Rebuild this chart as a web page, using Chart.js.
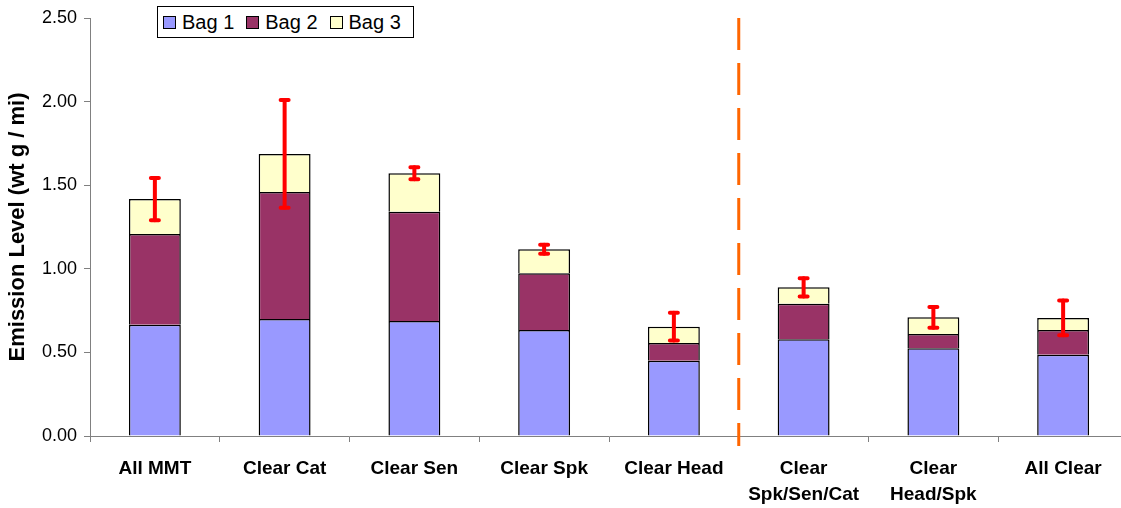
<!DOCTYPE html>
<html lang="en">
<head>
    <meta charset="UTF-8">
    <title>Emission Level by Bag</title>
    <script src="https://cdn.jsdelivr.net/npm/chart.js@4.4.1/dist/chart.umd.min.js"></script>
    <style>
        body {
            margin: 0;
            padding: 0;
            background-color: #ffffff;
            font-family: 'Liberation Sans', Arial, sans-serif;
        }
        .wrap {
            position: relative;
            width: 1121px;
            height: 508px;
            overflow: hidden;
        }
        .legend {
            position: absolute;
            left: 157px;
            top: 6px;
            width: 255px;
            height: 30px;
            border: 1px solid #000;
            background: #fff;
            display: flex;
            align-items: center;
            white-space: nowrap;
            font-size: 20px;
            line-height: 20px;
            color: #000;
        }
        .legend span.item {
            display: flex;
            align-items: center;
            margin-left: 5px;
            margin-right: 7px;
        }
        .legend span.box {
            display: inline-block;
            width: 11px;
            height: 11px;
            border: 1px solid #000;
            margin-right: 6px;
        }
    </style>
</head>
<body>
    <div class="wrap">
        <!-- plot runs a few px past the right edge, like the original -->
        <canvas id="emissionChart" width="1128" height="508"></canvas>
        <div class="legend" id="legend"></div>
    </div>

    <script>
        // data
        var categories = ['All MMT', 'Clear Cat', 'Clear Sen', 'Clear Spk', 'Clear Head',
            ['Clear', 'Spk/Sen/Cat'], ['Clear', 'Head/Spk'], 'All Clear'];
        var bag1 = [0.665, 0.700, 0.688, 0.634, 0.450, 0.578, 0.525, 0.486];
        var bag2 = [0.543, 0.759, 0.653, 0.339, 0.106, 0.213, 0.085, 0.148];
        var bag3 = [0.209, 0.228, 0.230, 0.144, 0.098, 0.098, 0.100, 0.072];
        var errorMargin = [0.126, 0.322, 0.036, 0.027, 0.083, 0.055, 0.062, 0.104];
        var dividerAfter = 4; // dashed line between Clear Head and the combos

        var seriesLabels = ['Bag 1', 'Bag 2', 'Bag 3'];
        var seriesColors = ['#9999FF', '#993366', '#FFFFCC'];

        // red error bars on top of each stack
        var errorBars = {
            id: 'errorBars',
            afterDatasetsDraw: function(chart) {
                var ctx = chart.ctx;
                var x = chart.scales.x, y = chart.scales.y;
                ctx.save();
                ctx.strokeStyle = '#FF0000';
                ctx.lineCap = 'round';
                for (var i = 0; i < categories.length; i++) {
                    var total = bag1[i] + bag2[i] + bag3[i];
                    var px = x.getPixelForValue(i);
                    var top = y.getPixelForValue(total + errorMargin[i]);
                    var bot = y.getPixelForValue(total - errorMargin[i]);
                    ctx.lineWidth = 4;
                    ctx.beginPath();
                    ctx.moveTo(px, top);
                    ctx.lineTo(px, bot);
                    ctx.stroke();
                    ctx.beginPath();
                    ctx.moveTo(px - 4, top);
                    ctx.lineTo(px + 4, top);
                    ctx.moveTo(px - 4, bot);
                    ctx.lineTo(px + 4, bot);
                    ctx.stroke();
                }
                ctx.restore();
            }
        };

        var divider = {
            id: 'divider',
            afterDatasetsDraw: function(chart) {
                var ctx = chart.ctx;
                var x = chart.scales.x;
                var px = (x.getPixelForValue(dividerAfter) + x.getPixelForValue(dividerAfter + 1)) / 2;
                ctx.save();
                ctx.strokeStyle = '#FF6600';
                ctx.lineWidth = 3;
                ctx.setLineDash([32, 13]);
                ctx.beginPath();
                ctx.moveTo(px, chart.chartArea.top);
                ctx.lineTo(px, chart.chartArea.bottom + 10);
                ctx.stroke();
                ctx.restore();
            }
        };

        var sets = [bag1, bag2, bag3].map(function(vals, k) {
            return {
                label: seriesLabels[k],
                data: vals,
                backgroundColor: seriesColors[k],
                borderColor: '#000000',
                borderWidth: 1.5,
                barPercentage: 0.4,
                categoryPercentage: 1.0
            };
        });

        var ctx = document.getElementById('emissionChart').getContext('2d');
        var chart = new Chart(ctx, {
            type: 'bar',
            data: { labels: categories, datasets: sets },
            options: {
                responsive: false,
                animation: false,
                layout: { padding: { top: 18, right: 0, left: 0, bottom: 0 } },
                plugins: {
                    legend: { display: false },
                    tooltip: { enabled: false }
                },
                scales: {
                    x: {
                        stacked: true,
                        offset: true,
                        border: { color: '#808080', width: 1 },
                        grid: { offset: true, drawOnChartArea: false, tickLength: 6, color: '#808080' },
                        ticks: {
                            color: '#000',
                            maxRotation: 0,
                            autoSkip: false,
                            padding: 14,
                            font: { family: 'Liberation Sans', size: 19, weight: 'bold', lineHeight: 1.35 }
                        },
                        afterFit: function(s) { s.height = 72; }
                    },
                    y: {
                        stacked: true,
                        min: 0,
                        max: 2.5,
                        border: { color: '#808080', width: 1 },
                        grid: { drawOnChartArea: false, tickLength: 6, color: '#808080' },
                        ticks: {
                            stepSize: 0.5,
                            color: '#000',
                            padding: 7,
                            font: { family: 'Liberation Sans', size: 18 },
                            callback: function(v) { return v.toFixed(2); }
                        },
                        title: {
                            display: true,
                            text: 'Emission Level (wt g / mi)',
                            color: '#000',
                            padding: { top: 5, bottom: 0 },
                            font: { family: 'Liberation Sans', size: 22, weight: 'bold' }
                        },
                        afterFit: function(s) { s.width = 90; }
                    }
                }
            },
            plugins: [errorBars, divider]
        });

        // legend with a border box, like the original
        var lg = document.getElementById('legend');
        seriesLabels.forEach(function(name, k) {
            var item = document.createElement('span');
            item.className = 'item';
            var box = document.createElement('span');
            box.className = 'box';
            box.style.background = seriesColors[k];
            item.appendChild(box);
            item.appendChild(document.createTextNode(name));
            lg.appendChild(item);
        });
    </script>
</body>
</html>
